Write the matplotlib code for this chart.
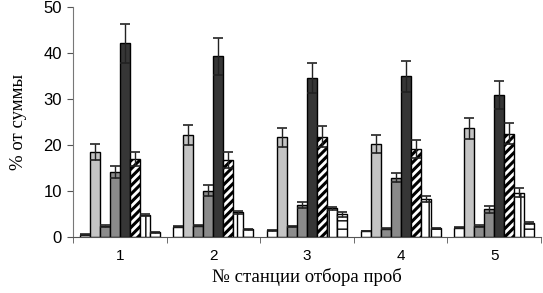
import matplotlib
matplotlib.use("Agg")
import matplotlib.pyplot as plt
import numpy as np

stations = ["1", "2", "3", "4", "5"]
# 8 series per station (values in % of total)
s1 = [0.5, 2.2, 1.5, 1.3, 2.0]
s2 = [18.5, 22.2, 21.7, 20.2, 23.6]
s3 = [2.4, 2.5, 2.3, 1.8, 2.4]
s4 = [14.1, 10.1, 7.0, 12.9, 6.0]
s5 = [42.1, 39.3, 34.6, 34.9, 30.9]
s6 = [16.9, 16.7, 21.8, 19.1, 22.5]
s7 = [4.8, 5.4, 6.2, 8.3, 9.6]
s8 = [1.0, 1.7, 4.9, 1.9, 3.0]
e1 = [0.05, 0.1, 0.1, 0.1, 0.1]
e2 = [1.8, 2.2, 2.1, 2.0, 2.3]
e3 = [0.15, 0.15, 0.15, 0.15, 0.15]
e4 = [1.3, 1.1, 0.7, 1.0, 0.8]
e5 = [4.2, 4.0, 3.3, 3.3, 3.1]
e6 = [1.5, 1.7, 2.3, 2.0, 2.2]
e7 = [0.3, 0.3, 0.3, 0.6, 1.0]
e8 = [0.1, 0.1, 0.5, 0.1, 0.2]

series = [s1, s2, s3, s4, s5, s6, s7, s8]
errors = [e1, e2, e3, e4, e5, e6, e7, e8]
colors = ["white", "#c4c4c4", "#8c8c8c", "#8a8a8a", "#363636", "white", "white", "white"]
hatches = [None, None, None, None, None, "////", "||", "--"]
hlw = [1, 1, 1, 1, 1, 2.2, 1.0, 1.0]

fig = plt.figure(figsize=(5.43, 2.93), dpi=100)
ax = fig.add_axes([73/543, 1 - 237/293, (541-73)/543, (237-7)/293])

x = np.arange(1, 6)
w = 0.107
for i, (vals, errs) in enumerate(zip(series, errors)):
    pos = x + (i - 3.5) * w
    with plt.rc_context({"hatch.linewidth": hlw[i], "hatch.color": "black"}):
        ax.bar(pos, vals, width=w, color=colors[i], edgecolor="black",
               linewidth=1.0, hatch=hatches[i], zorder=2)
    ax.errorbar(pos, vals, yerr=errs, fmt="none", ecolor="#222222",
                elinewidth=1.0, capsize=3.5, capthick=1.2, zorder=3)

ax.set_xlim(0.5, 5.5)
ax.set_ylim(0, 50)
ax.set_yticks([0, 10, 20, 30, 40, 50])
ax.set_xticks(x)
ax.set_xticklabels(stations, fontfamily="Liberation Sans", fontsize=11)
ax.set_xticks(np.arange(0.5, 6.0, 1.0), minor=True)
ax.tick_params(axis="x", which="major", length=0, pad=9)
ax.tick_params(axis="x", which="minor", length=4, color="#555555")
ax.tick_params(axis="y", length=4, color="#555555", pad=4)
for lab in ax.get_yticklabels():
    lab.set_fontfamily("Liberation Sans")
    lab.set_fontsize(12)
ax.spines["top"].set_visible(False)
ax.spines["right"].set_visible(False)
ax.spines["left"].set_color("#777777")
ax.spines["bottom"].set_color("#555555")
ax.set_xlabel("№ станции отбора проб", fontfamily="Liberation Serif", fontsize=13.5, labelpad=3)
ax.set_ylabel("% от суммы", fontfamily="Liberation Serif", fontsize=13.5, labelpad=12)

fig.savefig("out.png", dpi=100)
